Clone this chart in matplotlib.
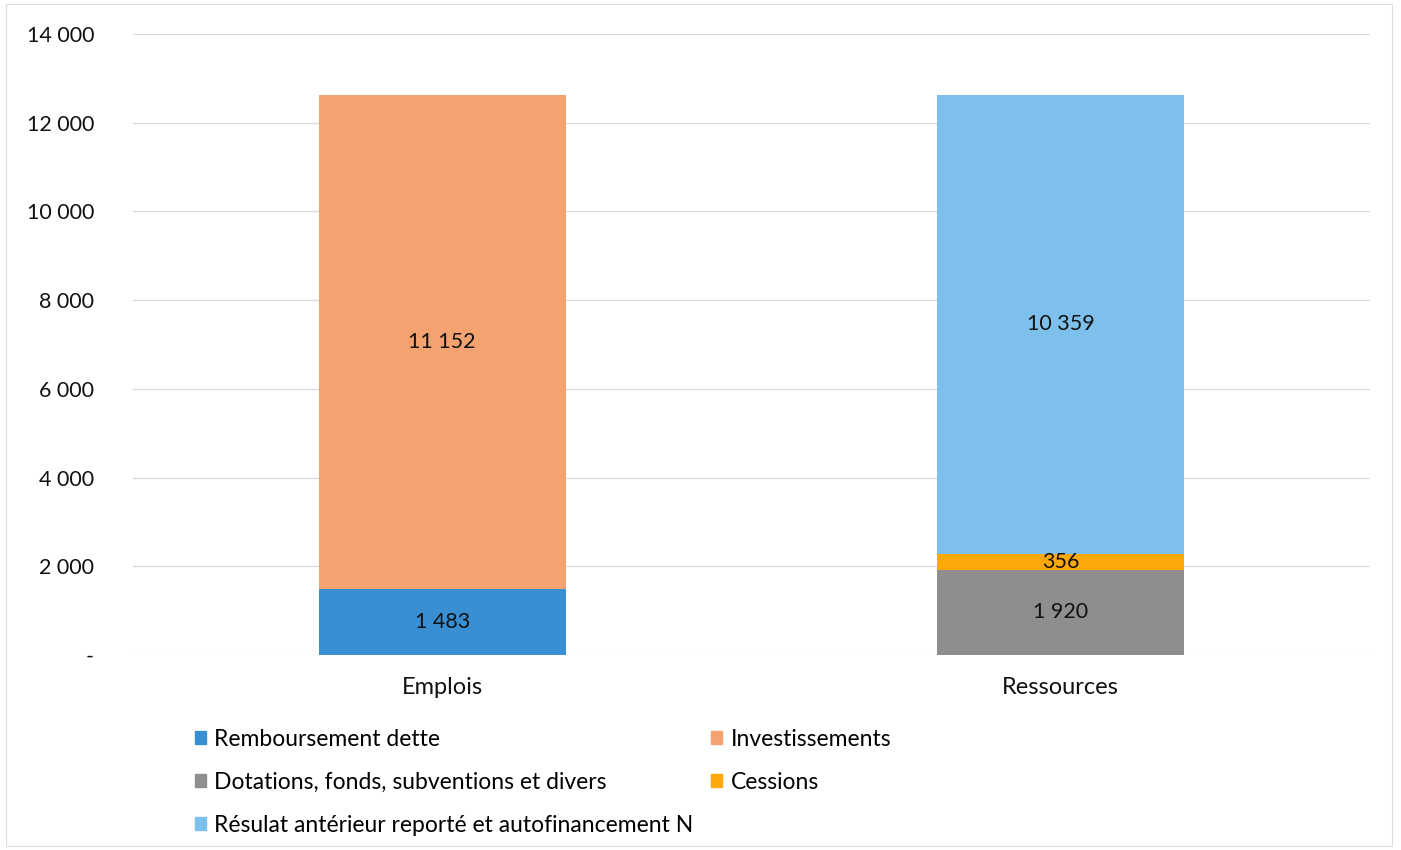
import matplotlib
matplotlib.use("Agg")
import matplotlib.pyplot as plt
from matplotlib.patches import Rectangle, Patch
import numpy as np

plt.rcParams['font.family'] = ['Lato', 'DejaVu Sans']

categories = ["Emplois", "Ressources"]
series_names = ["Remboursement dette", "Investissements",
                "Dotations, fonds, subventions et divers", "Cessions",
                "Résulat antérieur reporté et autofinancement N"]
remboursement = [1483, 0]
investissements = [11152, 0]
dotations = [0, 1920]
cessions = [0, 356]
resultat = [0, 10359]
yticks = [0, 2000, 4000, 6000, 8000, 10000, 12000, 14000]
ytick_labels = ["-", "2 000", "4 000", "6 000", "8 000", "10 000", "12 000", "14 000"]

colors = ["#3A8FD3", "#F5A271", "#8E8E8E", "#FFA80A", "#7EC0EC"]
series = [remboursement, investissements, dotations, cessions, resultat]

fig = plt.figure(figsize=(14.01, 8.5), dpi=100)
ax = fig.add_axes([133/1401, 1-655/850, (1370-133)/1401, (655-34)/850])

x = np.arange(len(categories))
bottom = np.zeros(len(categories))
for name, vals, c in zip(series_names, series, colors):
    vals = np.array(vals, dtype=float)
    ax.bar(x, vals, width=0.4, bottom=bottom, color=c, label=name, zorder=3)
    for xi, v, bt in zip(x, vals, bottom):
        if v > 0:
            ax.text(xi, bt + v/2, f"{int(v):,}".replace(",", " "), ha="center", va="center",
                    fontsize=15.5, color="#111111", zorder=4)
    bottom = bottom + vals

ax.set_xlim(-0.5, 1.5)
ax.set_ylim(0, 14000)
ax.set_yticks(yticks)
ax.set_yticklabels(ytick_labels, fontsize=15.5, color="#111111")
ax.set_xticks(x)
ax.set_xticklabels(categories, fontsize=17, color="#111111")
ax.tick_params(axis="both", length=0)
ax.tick_params(axis="y", pad=28)
ax.tick_params(axis="x", pad=16)
ax.grid(axis="y", color="#DADADA", linewidth=0.9, zorder=0)
for s in ax.spines.values():
    s.set_visible(False)

handles = [Patch(color=c) for c in colors]
order = [0, 2, 4, 1, 3]
fig.legend([handles[i] for i in order], [series_names[i] for i in order],
           ncol=2, loc="upper left", bbox_to_anchor=(195/1401, 1-729/850),
           frameon=False, handlelength=0.5, handleheight=0.5,
           handletextpad=0.35, columnspacing=0.75, labelspacing=0.95,
           borderaxespad=0, borderpad=0, prop={'size': 16.5})

fig.patches.append(Rectangle((6/1401, 4/850), (1392-6)/1401, (846-4)/850,
                             transform=fig.transFigure, fill=False,
                             edgecolor="#DDDDDD", linewidth=0.8))

fig.savefig("out.png", dpi=100)
